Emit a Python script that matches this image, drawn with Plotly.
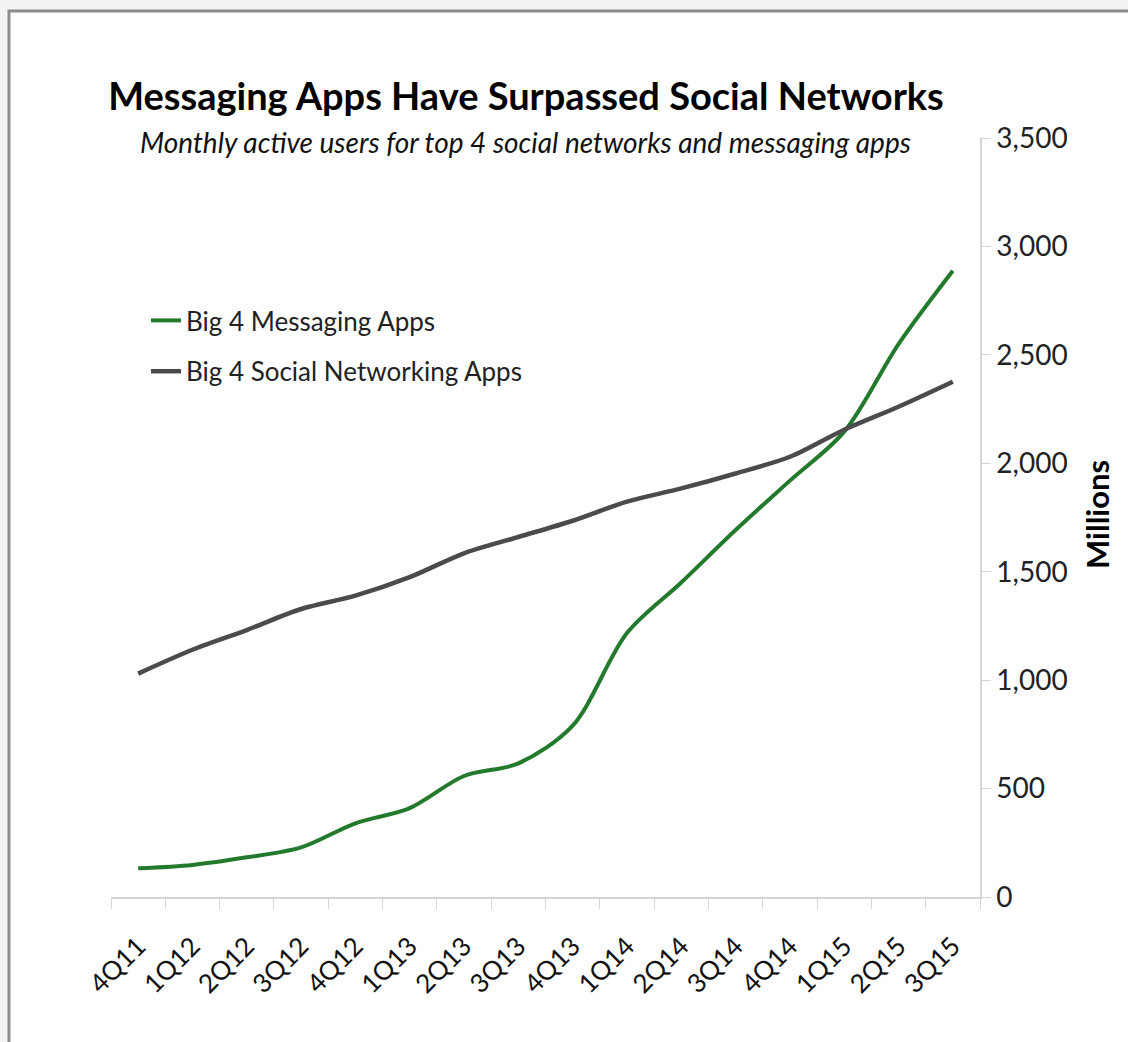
import plotly.graph_objects as go

quarters = ["4Q11", "1Q12", "2Q12", "3Q12", "4Q12", "1Q13", "2Q13", "3Q13",
            "4Q13", "1Q14", "2Q14", "3Q14", "4Q14", "1Q15", "2Q15", "3Q15"]
messaging = [132, 148, 183, 229, 340, 410, 558, 616,
             790, 1217, 1450, 1692, 1920, 2146, 2550, 2888]
social = [1030, 1140, 1231, 1328, 1390, 1475, 1585, 1660,
          1735, 1823, 1884, 1953, 2030, 2155, 2261, 2376]
y_ticks = [0, 500, 1000, 1500, 2000, 2500, 3000, 3500]

FONT = "Lato"
W, H = 1128, 1042
L, R, T, B = 111, 148, 138, 145
pw, ph = W - L - R, H - T - B

def px(x):
    return (x - L) / pw

def py(y):
    return (H - B - y) / ph

fig = go.Figure()
fig.add_trace(go.Scatter(
    x=quarters, y=messaging, mode="lines", name="Big 4 Messaging Apps",
    line=dict(color="#237a2c", width=4, shape="spline", smoothing=0.9),
    legendgroup="a"))
fig.add_trace(go.Scatter(
    x=quarters, y=social, mode="lines", name="Big 4 Social Networking Apps",
    line=dict(color="#4b4b4d", width=4.5, shape="spline", smoothing=0.9),
    legendgroup="b"))

# frame
fig.add_shape(type="rect", xref="paper", yref="paper",
              x0=px(9), x1=px(1140), y0=py(1060), y1=py(11),
              line=dict(color="#8c8c8c", width=3), fillcolor="white",
              layer="below")

fig.update_layout(
    width=W, height=H,
    margin=dict(l=L, r=R, t=T, b=B, autoexpand=False),
    paper_bgcolor="#f3f3f3", plot_bgcolor="rgba(0,0,0,0)",
    font=dict(family=FONT, color="#222"),
    title=dict(text="<b>Messaging Apps Have Surpassed Social Networks</b>",
               x=526 / W, xanchor="center", y=1 - 97 / H, yanchor="middle",
               font=dict(family=FONT, size=38, color="#000")),
    showlegend=True,
    legend=dict(x=px(146), y=py(297), xanchor="left", yanchor="top",
                bgcolor="rgba(0,0,0,0)", font=dict(size=26, color="#222"),
                itemwidth=30, tracegroupgap=14, traceorder="grouped"),
    xaxis=dict(type="category", showgrid=False, showline=True,
               linecolor="#d4d4d4", linewidth=1.5, ticks="outside",
               tickson="boundaries", ticklen=10, tickcolor="#d4d4d4",
               tickangle=-45, tickfont=dict(size=26, color="#111"),
               ticklabelstandoff=22,
               range=[-0.5, len(quarters) - 0.5], zeroline=False),
    yaxis=dict(side="right", range=[0, 3500], tickvals=y_ticks,
               tickformat=",", showgrid=False, showline=True,
               linecolor="#d4d4d4", linewidth=1.5, ticks="outside",
               ticklen=9, tickcolor="#d4d4d4", zeroline=False,
               tickfont=dict(size=28, color="#222")),
    annotations=[
        dict(text="<i>Monthly active users for top 4 social networks and messaging apps</i>",
             xref="paper", yref="paper", x=px(525), y=py(142),
             xanchor="center", yanchor="middle", showarrow=False,
             font=dict(family=FONT, size=28, color="#111")),
        dict(text="<b>Millions</b>", xref="paper", yref="paper",
             x=px(1097), y=py(515), xanchor="center", yanchor="middle",
             textangle=-90, showarrow=False,
             font=dict(family=FONT, size=31, color="#000")),
    ],
)

fig.write_html("out.html")
